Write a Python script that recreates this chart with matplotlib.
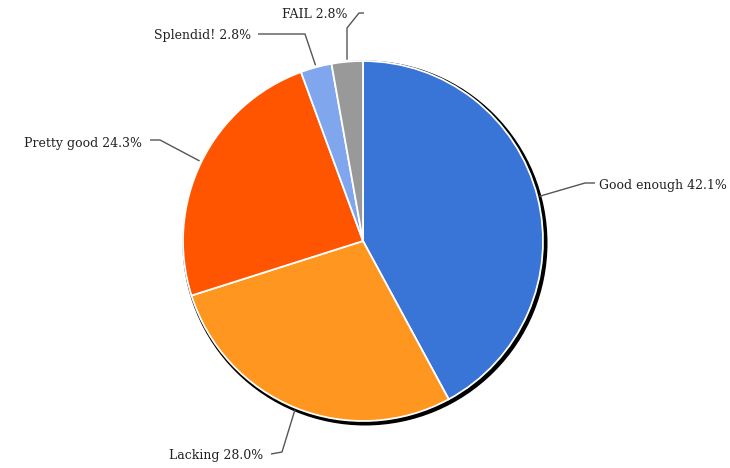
import numpy as np
import matplotlib
matplotlib.use("Agg")
import matplotlib.pyplot as plt
from matplotlib.patches import Circle

categories = ["Good enough", "Lacking", "Pretty good", "Splendid!", "FAIL"]
values = [42.1, 28.0, 24.3, 2.8, 2.8]
colors = ["#3875d7", "#ff9620", "#ff5500", "#80a6ee", "#999999"]

W, H = 730, 468
fig = plt.figure(figsize=(W / 100, H / 100), dpi=100)
ax = fig.add_axes([0, 0, 1, 1])

cx, cy, R = 363, H - 241, 180

# shadow
ax.add_patch(Circle((cx + 2, cy - 2), R + 2.5, facecolor="black", edgecolor="none", zorder=1))

wedges, _ = ax.pie(values, colors=colors, startangle=90, counterclock=False,
                   center=(cx, cy), radius=R, frame=True,
                   wedgeprops=dict(edgecolor="white", linewidth=1.3, zorder=2))
ax.set_xlim(0, W)
ax.set_ylim(0, H)
ax.set_aspect("equal")
ax.axis("off")

# label layout (pixel coords, y from top): path points after the edge point, text pos, alignment
layout = {
    "Good enough": ([(585, 183), (595, 183)], (599, 186), "left"),
    "Lacking": ([(282, 452), (271, 454)], (263, 456), "right"),
    "Pretty good": ([(160, 140), (150, 140)], (142, 143), "right"),
    "Splendid!": ([(305, 34), (258, 34)], (251, 36), "right"),
    "FAIL": ([(347, 28), (359, 13), (364, 13)], (347, 14), "right"),
}

for w, cat, v in zip(wedges, categories, values):
    mid = np.deg2rad((w.theta1 + w.theta2) / 2)
    ex, ey = cx + (R + 2) * np.cos(mid), cy + (R + 2) * np.sin(mid)
    pts, (tx, ty), ha = layout[cat]
    xs = [ex] + [p[0] for p in pts]
    ys = [ey] + [H - p[1] for p in pts]
    ax.plot(xs, ys, color="#555555", lw=1.0, zorder=3, solid_capstyle="butt")
    ax.text(tx, H - ty, f"{cat} {v:.1f}%", ha=ha, va="center",
            fontsize=9, family="DejaVu Serif", color="#222222")

fig.savefig("out.png", dpi=100)
